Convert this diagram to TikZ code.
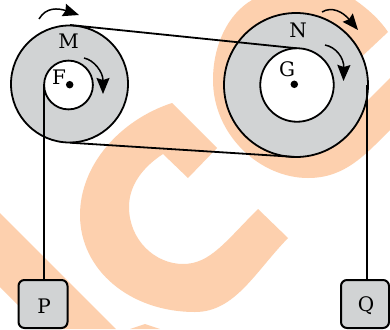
\documentclass[tikz,border=0pt]{standalone}
\usepackage{fontspec}
\setmainfont{DejaVu Serif}
\usetikzlibrary{arrows.meta}
\definecolor{wm}{HTML}{FDD0AE}
\definecolor{disc}{HTML}{D1D3D4}
\tikzset{
  x=1pt,y=-1pt,
  wmark/.style={fill=wm,draw=none},
  wheel/.style={circle,draw=black,line width=1.8pt,inner sep=0pt,fill=disc},
  hole/.style={circle,draw=black,line width=1.8pt,inner sep=0pt,fill=white},
  axle/.style={circle,fill=black,inner sep=0pt,minimum size=7.5pt},
  belt/.style={draw=black,line width=1.8pt},
  weight/.style={draw=black,line width=2pt,fill=disc,rounded corners=6pt,minimum height=48pt,inner sep=0pt,font=\fontsize{20}{20}\selectfont},
  lab/.style={inner sep=0pt,font=\fontsize{20}{20}\selectfont},
  turn/.style={draw=black,line width=1.5pt,-{Stealth[length=16pt,width=13pt,inset=2pt]}}
}
\begin{document}
\begin{tikzpicture}
\useasboundingbox (0,0) rectangle (390,329);
\fill[white] (0,0) rectangle (390,329);
% watermark
\fill[wmark] (0,213) -- (116,329) -- (42,329) -- (0,287) -- cycle;
\fill[wmark] (130,329) -- (145,324) -- (160,329) -- cycle;
\fill[wmark] (172,103) -- (217,148) -- (188,178) -- (163,154)
  .. controls (143,167) and (129,185) .. (129,207)
  .. controls (129,240) and (155,264) .. (183,264)
  .. controls (210,264) and (225,242) .. (258,209)
  -- (288,238)
  .. controls (255,272) and (235,312) .. (195,312)
  .. controls (130,312) and (80,270) .. (80,215)
  .. controls (80,165) and (120,120) .. (172,103) -- cycle;
\fill[wmark] (252,0) .. controls (228,14) and (213,45) .. (213,80)
  .. controls (213,135) and (260,178) .. (308,178)
  .. controls (345,178) and (365,155) .. (390,130)
  -- (390,78) -- (350,118) -- (340,77) -- (388,32)
  .. controls (380,20) and (368,9) .. (355,0) -- cycle;
% wheels
\node[wheel,minimum size=117pt] (M) at (69.5,84) {};
\node[hole,minimum size=48.8pt] (F) at (68.5,85) {};
\node[axle] (fa) at (69.7,84.7) {};
\node[wheel,minimum size=144pt] (N) at (296,85) {};
\node[hole,minimum size=73.5pt] (G) at (297,85) {};
\node[axle] (ga) at (294.3,84.3) {};
% weights
\node[weight,minimum width=49pt] (P) at (43,304) {};
\node[weight,minimum width=48pt] (Q) at (365,304) {};
\node[lab] (lp) at (44,306) {P};
\node[lab] (lq) at (366,306) {Q};
% belts
\coordinate (b1) at (70,25);
\coordinate (b2) at (297,48.3);
\coordinate (b3) at (70,142.7);
\coordinate (b4) at (296,157);
\draw[belt] (b1) -- (b2);
\draw[belt] (b3) -- (b4);
\coordinate (p1) at (43.7,84);
\coordinate (q1) at (367.3,85);
\draw[belt] (p1) -- (p1 |- P.north);
\draw[belt] (q1) -- (q1 |- Q.north);
% labels
\node[lab] (lm) at (68.5,41) {M};
\node[lab] (lf) at (59,77) {F};
\node[lab] (ln) at (298,30) {N};
\node[lab] (lg) at (287,69) {G};
% arrows
\coordinate (a1) at (39,19); \coordinate (a2) at (79,15);
\coordinate (a3) at (84,58); \coordinate (a4) at (103,94);
\coordinate (a5) at (322,12); \coordinate (a6) at (358,30);
\coordinate (a7) at (325,45); \coordinate (a8) at (343.5,81);
\draw[turn] (a1) .. controls (46,7) and (58,8) .. (a2);
\draw[turn] (a3) .. controls (94,60) and (103,72) .. (a4);
\draw[turn] (a5) .. controls (332,6) and (343,12) .. (a6);
\draw[turn] (a7) .. controls (336,47) and (344,58) .. (a8);
\end{tikzpicture}
\end{document}
